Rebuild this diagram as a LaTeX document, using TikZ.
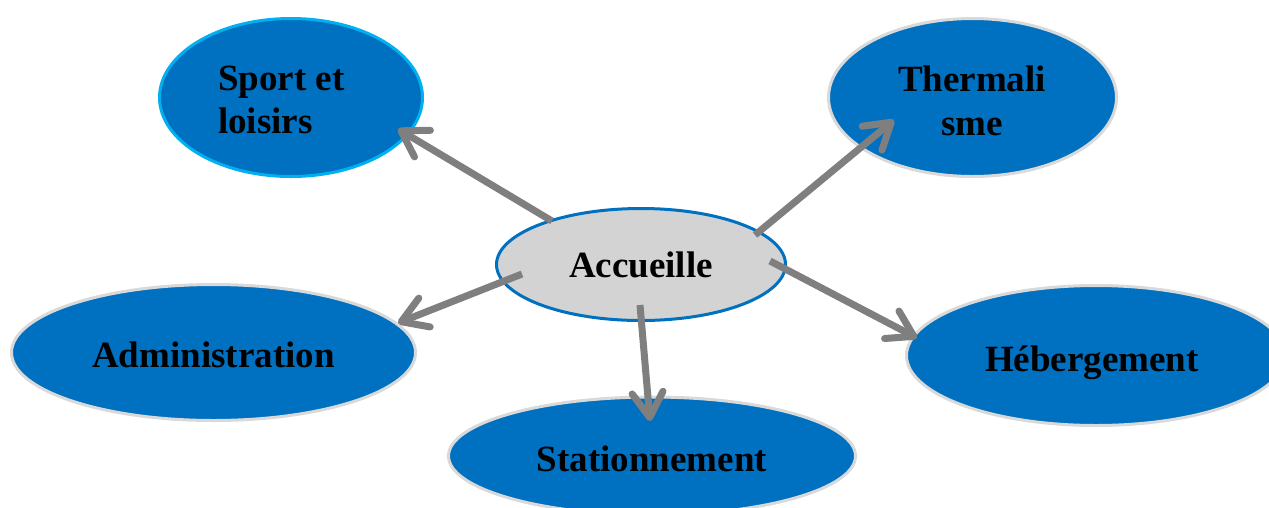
\documentclass[tikz,border=0pt]{standalone}
\usepackage{fontspec}
\setmainfont{Liberation Serif}
\usetikzlibrary{shapes.geometric,arrows.meta}
\definecolor{bluefill}{HTML}{0070C0}
\definecolor{cyanline}{HTML}{00B0F0}
\definecolor{greyline}{HTML}{D9D9D9}
\definecolor{arrowgrey}{HTML}{7F7F7F}
\definecolor{accfill}{HTML}{D3D3D3}
\begin{document}
\begin{tikzpicture}[x=1pt,y=-1pt,
  oval/.style={ellipse, inner sep=0pt, fill=bluefill, draw=greyline, line width=3pt},
  lbl/.style={inner sep=0pt, anchor=base, font=\fontsize{37}{44}\selectfont\bfseries, text=black},
  conn/.style={draw=arrowgrey, line width=7pt, -{Straight Barb[length=25pt,width=31pt,round]}}]
\useasboundingbox (0,0) rectangle (1269,507);
% ellipses
\node[oval, draw=cyanline, minimum width=263pt, minimum height=158pt] (sport) at (291,97.5) {};
\node[oval, minimum width=288pt, minimum height=158pt] (therm) at (972.5,97.5) {};
\node[oval, minimum width=404pt, minimum height=136pt] (admin) at (213.5,352.5) {};
\node[oval, minimum width=379pt, minimum height=140pt] (heb) at (1096,355.5) {};
\node[oval, minimum width=407pt, minimum height=118pt] (stat) at (652,456) {};
\node[ellipse, inner sep=0pt, fill=accfill, draw=bluefill, line width=3pt, minimum width=289pt, minimum height=112pt] (acc) at (641,264.5) {};
% labels
\node[lbl, anchor=base west] (sportA) at (218,90) {Sport et};
\node[lbl, anchor=base west] (sportB) at (218,133) {loisirs};
\node[lbl] (thermA) at (972,91) {Thermali};
\node[lbl] (thermB) at (972,135) {sme};
\node[lbl] (accT) at (641,277) {Accueille};
\node[lbl] (adminT) at (213.5,367) {Administration};
\node[lbl] (hebT) at (1092,371) {Hébergement};
\node[lbl] (statT) at (652,471) {Stationnement};
% connector end points
\coordinate (s1) at (552,221);
\coordinate (s2) at (755,235);
\coordinate (s3) at (522,274);
\coordinate (s4) at (640,305);
\coordinate (s5) at (770,261);
\coordinate (t1) at (398,129);
\coordinate (t2) at (894,120);
\coordinate (t3) at (398,323);
\coordinate (t4) at (650,421);
\coordinate (t5) at (917,338);
\draw[conn] (s1) -- (t1);
\draw[conn] (s2) -- (t2);
\draw[conn] (s3) -- (t3);
\draw[conn] (s4) -- (t4);
\draw[conn] (s5) -- (t5);
\end{tikzpicture}
\end{document}
